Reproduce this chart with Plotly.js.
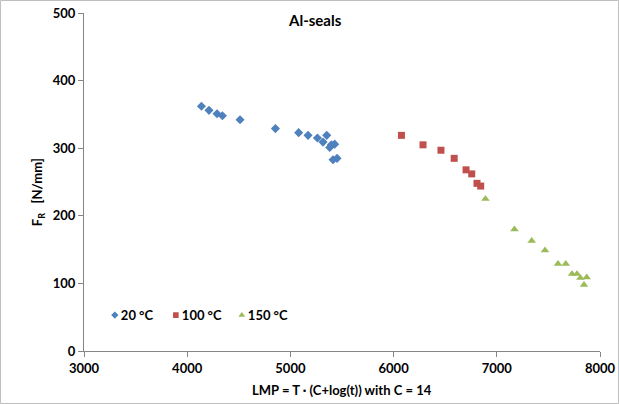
<!DOCTYPE html>
<html>
<head>
<meta charset="utf-8">
<script src="https://cdn.plot.ly/plotly-3.0.1.min.js"></script>
<style>
  html, body { margin: 0; padding: 0; background: #fff; }
  #chart { width: 619px; height: 404px; }
</style>
</head>
<body>
<div id="chart"></div>
<script>
// Series names
const seriesNames = ["20 °C", "100 °C", "150 °C"];

// 20 °C
const lmp20 = [4138, 4211, 4289, 4341, 4512, 4855, 5080, 5171, 5262, 5352, 5316, 5397, 5429, 5381, 5413, 5452];
const fr20  = [362, 356, 351, 348, 342, 329, 323, 319, 315, 319, 309, 305, 306, 301, 283, 285];

// 100 °C
const lmp100 = [6076, 6285, 6459, 6587, 6702, 6757, 6808, 6844];
const fr100  = [319, 305, 297, 285, 268, 262, 248, 244];

// 150 °C
const lmp150 = [6890, 7171, 7338, 7467, 7593, 7668, 7729, 7777, 7810, 7871, 7845];
const fr150  = [225, 180, 163, 149, 129, 129, 114, 114, 108, 109, 98];

const FONT = "Lato, 'Open Sans', sans-serif";

const traces = [
  { x: lmp20, y: fr20, name: seriesNames[0], type: "scatter", mode: "markers",
    marker: { symbol: "diamond", size: 7, color: "#4f81bd" } },
  { x: lmp100, y: fr100, name: seriesNames[1], type: "scatter", mode: "markers",
    marker: { symbol: "square", size: 7, color: "#c0504d" } },
  { x: lmp150, y: fr150, name: seriesNames[2], type: "scatter", mode: "markers",
    marker: { symbol: "triangle-up", size: 7.5, color: "#9bbb59" } }
];

const axisCommon = {
  showgrid: false, zeroline: false, showline: true, linecolor: "#868686", linewidth: 1,
  ticks: "outside", ticklen: 5, tickcolor: "#868686",
  tickfont: { family: FONT, size: 13, color: "#000", weight: "bold" },
  fixedrange: true
};

const layout = {
  width: 619, height: 404,
  margin: { l: 84, r: 19, t: 13, b: 53, pad: 0 },
  paper_bgcolor: "#fff", plot_bgcolor: "#fff",
  font: { family: FONT, size: 13, color: "#000" },
  xaxis: Object.assign({}, axisCommon, { range: [3000, 8000], dtick: 1000, tickformat: "d" }),
  yaxis: Object.assign({}, axisCommon, { range: [0, 500], dtick: 100 }),
  showlegend: true,
  legend: {
    orientation: "h", x: 0.021, y: 0.106, xanchor: "left", yanchor: "middle",
    bgcolor: "rgba(0,0,0,0)", font: { family: FONT, size: 13, color: "#000", weight: "bold" },
    itemwidth: 30, tracegroupgap: 0
  },
  annotations: [
    { text: "Al-seals", xref: "paper", yref: "paper", x: 0.448, y: 0.979,
      xanchor: "center", yanchor: "middle", showarrow: false,
      font: { family: FONT, size: 15, color: "#000", weight: "bold" } },
    { text: "F<sub>R</sub>   [N/mm]", xref: "paper", yref: "paper", x: -0.089, y: 0.47,
      xanchor: "center", yanchor: "middle", textangle: -90, showarrow: false,
      font: { family: FONT, size: 13, color: "#000", weight: "bold" } },
    { text: "LMP = T · (C+log(t)) with C = 14", xref: "paper", yref: "paper", x: 0.5, y: -0.115,
      xanchor: "center", yanchor: "middle", showarrow: false,
      font: { family: FONT, size: 13, color: "#000", weight: "bold" } }
  ],
  shapes: [
    { type: "rect", xref: "paper", yref: "paper",
      x0: (0.5 - 84) / 516, x1: (618.5 - 84) / 516,
      y0: (351 - 403.5) / 338, y1: (351 - 0.5) / 338,
      line: { color: "#bfbfbf", width: 1 }, fillcolor: "rgba(0,0,0,0)", layer: "below" }
  ]
};

Plotly.newPlot("chart", traces, layout, { displayModeBar: false, staticPlot: true }).then(function (gd) {
  // Tighten legend: symbol closer to text, Excel-like spacing and smaller symbols
  const offsets = [0, 61, 127];
  const items = gd.querySelectorAll(".legend .traces");
  items.forEach(function (g, i) {
    const tr = g.getAttribute("transform") || "";
    const m = tr.match(/translate\(\s*([-\d.]+)[ ,]+([-\d.]+)\s*\)/);
    const y = m ? parseFloat(m[2]) : 0;
    g.setAttribute("transform", "translate(" + offsets[i] + "," + y + ")");
    const t = g.querySelector(".legendtext");
    if (t) t.setAttribute("x", 26);
    const sym = g.querySelector(".legendsymbols");
    if (sym) sym.setAttribute("transform", "translate(20,0) scale(0.8) translate(-20,0)");
  });
});
</script>
</body>
</html>
